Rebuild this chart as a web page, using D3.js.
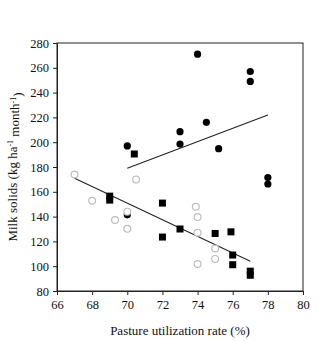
<!DOCTYPE html>
<html>
<head>
<meta charset="utf-8">
<script src="https://cdn.jsdelivr.net/npm/d3@7"></script>
<style>
  body { margin: 0; background: #fff; }
  text { font-family: "Liberation Serif", "Times New Roman", serif; }
</style>
</head>
<body>
<svg id="chart"></svg>
<script>
// filled circles
var filledCircleX = [74, 77, 77, 70, 73, 73, 74.5, 75.2, 78, 78, 70]
var filledCircleY = [271, 257, 249, 197, 208.5, 198.5, 216, 194.8, 171.5, 166.3, 141.4]

// filled squares
var squareX = [70.4, 69, 69, 72, 73, 72, 75, 75.9, 76, 76, 77, 77]
var squareY = [190.5, 156.5, 153.3, 150.9, 130, 123.5, 126.4, 127.7, 109, 101.2, 96, 92.7]

// open circles
var openCircleX = [67, 68, 69.3, 70.5, 70, 70, 73.9, 74, 74, 75, 75, 74]
var openCircleY = [174, 152.8, 137.2, 170, 144, 130.2, 147.9, 139.6, 127, 114.3, 105.9, 101.8]

// regression lines (endpoints)
var upperLineX = [70, 78]
var upperLineY = [179, 222]
var lowerLineX = [67, 77]
var lowerLineY = [171, 104]

var xTicks = [66, 68, 70, 72, 74, 76, 78, 80]
var yTicks = [80, 100, 120, 140, 160, 180, 200, 220, 240, 260, 280]

var margin = {top: 43, right: 23, bottom: 50, left: 57}
var W = 326, H = 341
var width = W - margin.left - margin.right
var height = H - margin.top - margin.bottom

var svg = d3.select("#chart")
    .attr("width", W)
    .attr("height", H)

var g = svg.append("g")
    .attr("transform", "translate(" + margin.left + "," + margin.top + ")")

var x = d3.scaleLinear().domain([66, 80]).range([0, width])
var y = d3.scaleLinear().domain([80, 280]).range([height, 0])

// frame
g.append("rect")
    .attr("width", width)
    .attr("height", height)
    .attr("fill", "none")
    .attr("stroke", "#222")
    .attr("stroke-width", 1)

var xAxis = g.append("g")
    .attr("transform", "translate(0," + height + ")")
    .call(d3.axisBottom(x).tickValues(xTicks).tickSize(4).tickPadding(5))
var yAxis = g.append("g")
    .call(d3.axisLeft(y).tickValues(yTicks).tickSize(4).tickPadding(4))

;[xAxis, yAxis].forEach(function(a) {
    a.selectAll("text")
        .style("font-family", "'Liberation Serif', serif")
        .style("font-size", "12.5px")
        .attr("fill", "#111")
    a.selectAll("line").attr("stroke", "#222")
    a.select(".domain").attr("stroke", "#222")
})

// regression lines
function drawLine(xs, ys) {
    var pts = xs.map(function(d, i) { return [d, ys[i]] })
    g.append("path")
        .datum(pts)
        .attr("fill", "none")
        .attr("stroke", "#222")
        .attr("stroke-width", 1.1)
        .attr("d", d3.line().x(d => x(d[0])).y(d => y(d[1])))
}
drawLine(upperLineX, upperLineY)
drawLine(lowerLineX, lowerLineY)

// filled circles (under the open ones)
g.append("g").selectAll("circle")
    .data(filledCircleX.map((d, i) => [d, filledCircleY[i]]))
    .join("circle")
    .attr("cx", d => x(d[0]))
    .attr("cy", d => y(d[1]))
    .attr("r", 3.6)
    .attr("fill", "#000")

// open circles
g.append("g").selectAll("circle")
    .data(openCircleX.map((d, i) => [d, openCircleY[i]]))
    .join("circle")
    .attr("cx", d => x(d[0]))
    .attr("cy", d => y(d[1]))
    .attr("r", 3.4)
    .attr("fill", "#fff")
    .attr("stroke", "#bdbdbd")
    .attr("stroke-width", 1.2)

// squares
var s = 7
g.append("g").selectAll("rect")
    .data(squareX.map((d, i) => [d, squareY[i]]))
    .join("rect")
    .attr("x", d => x(d[0]) - s / 2)
    .attr("y", d => y(d[1]) - s / 2)
    .attr("width", s)
    .attr("height", s)
    .attr("fill", "#000")

// axis labels
svg.append("text")
    .attr("x", margin.left + width / 2)
    .attr("y", 335)
    .attr("text-anchor", "middle")
    .style("font-size", "13px")
    .attr("fill", "#111")
    .text("Pasture utilization rate (%)")

var yl = svg.append("text")
    .attr("transform", "translate(17," + (margin.top + height / 2) + ") rotate(-90)")
    .attr("text-anchor", "middle")
    .style("font-size", "13px")
    .attr("fill", "#111")
yl.append("tspan").text("Milk solids (kg ha")
yl.append("tspan").attr("dy", "-0.45em").style("font-size", "8px").text("-1")
yl.append("tspan").attr("dy", "0.45em").text(" month")
yl.append("tspan").attr("dy", "-0.45em").style("font-size", "8px").text("-1")
yl.append("tspan").attr("dy", "0.45em").text(")")
</script>
</body>
</html>
